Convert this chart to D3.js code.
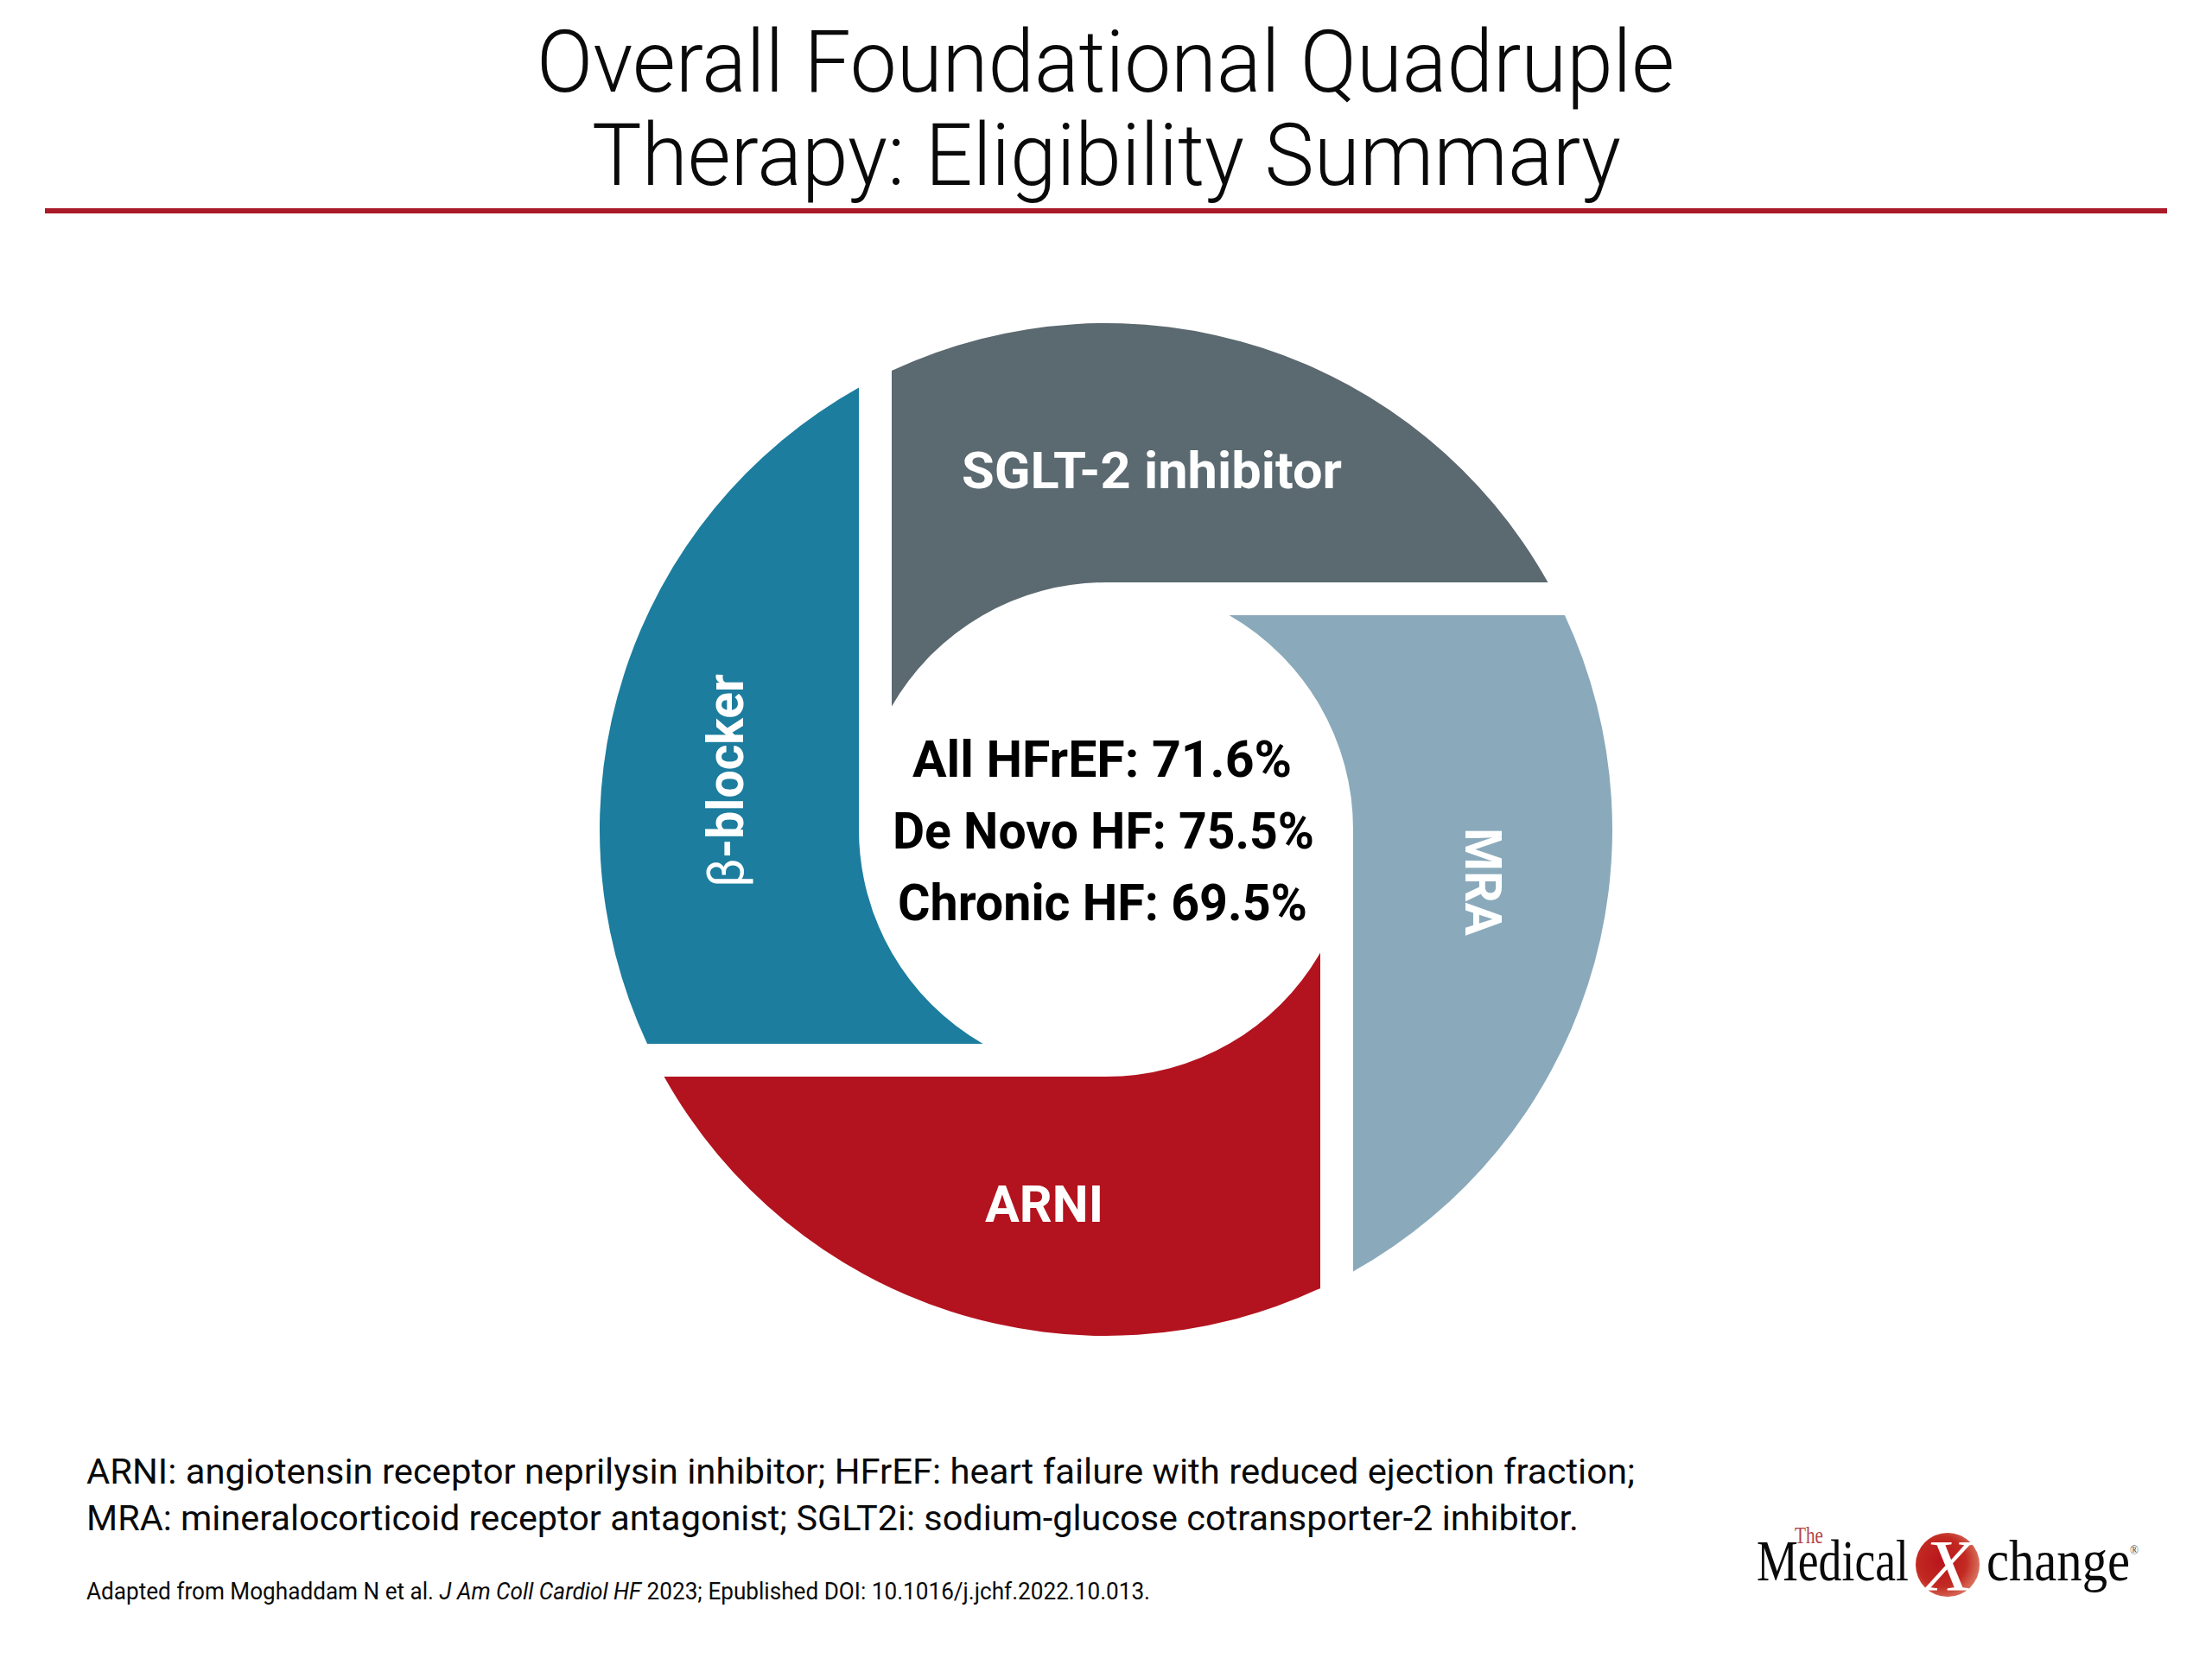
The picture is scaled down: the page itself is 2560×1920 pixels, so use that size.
<!DOCTYPE html>
<html>
<head>
<meta charset="utf-8">
<style>
  html, body { margin: 0; padding: 0; background: #fff; }
  svg { display: block; }
  text { font-family: Roboto, sans-serif; }
</style>
<script src="https://cdn.jsdelivr.net/npm/d3@7"></script>
</head>
<body>
<div id="container"></div>
<script>
//===================================================
// Data
//===================================================
var titleLines = ["Overall Foundational Quadruple", "Therapy: Eligibility Summary"];
var segmentNames = ["SGLT-2 inhibitor", "MRA", "ARNI", "β-blocker"];
var segmentShares = [25, 25, 25, 25];
var cohortNames = ["All HFrEF", "De Novo HF", "Chronic HF"];
var cohortEligible = [71.6, 75.5, 69.5];
var footnoteLines = [
  "ARNI: angiotensin receptor neprilysin inhibitor; HFrEF: heart failure with reduced ejection fraction;",
  "MRA: mineralocorticoid receptor antagonist; SGLT2i: sodium-glucose cotransporter-2 inhibitor."
];

//===================================================
// Layout
//===================================================
var W = 2560, H = 1920;
var CX = 1280, CY = 960;
var R_OUTER = 586, R_INNER = 286, EDGE = 248;
var RED = "#b3131f";

var color = d3.scaleOrdinal()
  .domain(segmentNames)
  .range(["#5b6970", "#8aaabb", RED, "#1c7d9e"]);

var cohortY = d3.scalePoint()
  .domain(cohortNames)
  .range([899, 1065]);

var pct = d3.format(".1f");

// [x, y, rotation, length] of each label, x/y is the start of the baseline
var labelSpots = {
  "SGLT-2 inhibitor": [1113, 565, 0, 440],
  "MRA": [1696, 958, 90, 125],
  "ARNI": [1140, 1414, 0, 137],
  "β-blocker": [860, 1027, -90, 247]
};

var svg = d3.select("#container").append("svg")
  .attr("width", W)
  .attr("height", H)
  .attr("viewBox", [0, 0, W, H]);

svg.append("rect").attr("width", W).attr("height", H).attr("fill", "#fff");

//===================================================
// Title
//===================================================
var titleSpots = [[621, 1317, 106], [685, 1191, 214]];

svg.selectAll("text.title")
  .data(titleLines)
  .join("text")
  .attr("class", "title")
  .attr("x", function(d, i) { return titleSpots[i][0]; })
  .attr("y", function(d, i) { return titleSpots[i][2]; })
  .attr("textLength", function(d, i) { return titleSpots[i][1]; })
  .attr("lengthAdjust", "spacingAndGlyphs")
  .attr("font-size", 100)
  .attr("font-weight", 300)
  .attr("fill", "#0a0a0a")
  .text(function(d) { return d; });

svg.append("line")
  .attr("x1", 52).attr("x2", 2508)
  .attr("y1", 244).attr("y2", 244)
  .attr("stroke", "#aa1a28")
  .attr("stroke-width", 6);

//===================================================
// Pinwheel: one shape, turned by the pie's start angle
//===================================================
var pie = d3.pie().sort(null);

function segmentPath() {
  var p = d3.path();
  var yOut = Math.sqrt(R_OUTER * R_OUTER - EDGE * EDGE);
  var yIn = Math.sqrt(R_INNER * R_INNER - EDGE * EDGE);
  var xTip = Math.sqrt(R_OUTER * R_OUTER - R_INNER * R_INNER);
  p.moveTo(-EDGE, -yOut);
  p.arc(0, 0, R_OUTER, Math.atan2(-yOut, -EDGE), Math.atan2(-R_INNER, xTip), false);
  p.lineTo(0, -R_INNER);
  p.arc(0, 0, R_INNER, -Math.PI / 2, Math.atan2(-yIn, -EDGE), true);
  p.closePath();
  return p.toString();
}

var segs = pie(segmentShares);

svg.append("g")
  .attr("transform", "translate(" + CX + "," + CY + ")")
  .selectAll("path")
  .data(segs)
  .join("path")
  .attr("d", segmentPath())
  .attr("transform", function(d) { return "rotate(" + (d.startAngle * 180 / Math.PI) + ")"; })
  .attr("fill", function(d, i) { return color(segmentNames[i]); });

svg.selectAll("text.seg")
  .data(segmentNames)
  .join("text")
  .attr("class", "seg")
  .attr("transform", function(d) {
    var s = labelSpots[d];
    return "translate(" + s[0] + "," + s[1] + ") rotate(" + s[2] + ")";
  })
  .attr("textLength", function(d) { return labelSpots[d][3]; })
  .attr("lengthAdjust", "spacingAndGlyphs")
  .attr("font-size", 60)
  .attr("font-weight", 700)
  .attr("fill", "#fff")
  .each(function(d) {
    // the beta is a thin glyph in the original
    var t = d3.select(this);
    if (d.charAt(0) === "β") {
      t.append("tspan").attr("font-weight", 400).text("β");
      t.append("tspan").text(d.slice(1));
    } else {
      t.text(d);
    }
  });

//===================================================
// Centre text
//===================================================
var cohortSpots = [[1056, 439], [1033, 488], [1039, 474]];

svg.selectAll("text.cohort")
  .data(cohortNames)
  .join("text")
  .attr("class", "cohort")
  .attr("x", function(d, i) { return cohortSpots[i][0]; })
  .attr("y", function(d) { return cohortY(d); })
  .attr("textLength", function(d, i) { return cohortSpots[i][1]; })
  .attr("lengthAdjust", "spacingAndGlyphs")
  .attr("font-size", 59)
  .attr("font-weight", 700)
  .attr("fill", "#000")
  .text(function(d, i) { return d + ": " + pct(cohortEligible[i]) + "%"; });

//===================================================
// Footnotes
//===================================================
var footSpots = [[1717, 1792], [1771, 1727]];

svg.selectAll("text.foot")
  .data(footnoteLines)
  .join("text")
  .attr("class", "foot")
  .attr("x", 100)
  .attr("y", function(d, i) { return footSpots[i][0]; })
  .attr("textLength", function(d, i) { return footSpots[i][1]; })
  .attr("lengthAdjust", "spacingAndGlyphs")
  .attr("font-size", 41)
  .attr("fill", "#0a0a0a")
  .text(function(d) { return d; });

var source = svg.append("text")
  .attr("x", 100)
  .attr("y", 1851)
  .attr("textLength", 1231)
  .attr("lengthAdjust", "spacingAndGlyphs")
  .attr("font-size", 27)
  .attr("fill", "#0a0a0a");
source.append("tspan").text("Adapted from Moghaddam N et al. ");
source.append("tspan").attr("font-style", "italic").text("J Am Coll Cardiol HF");
source.append("tspan").text(" 2023; Epublished DOI: 10.1016/j.jchf.2022.10.013.");

//===================================================
// Logo
//===================================================
var grad = svg.append("defs").append("radialGradient")
  .attr("id", "ball")
  .attr("cx", "40%").attr("cy", "45%").attr("r", "60%");
grad.append("stop").attr("offset", "0%").attr("stop-color", "#b8141c");
grad.append("stop").attr("offset", "65%").attr("stop-color", "#c22a22");
grad.append("stop").attr("offset", "100%").attr("stop-color", "#d8705c");

var logo = svg.append("g");

function logoText(str, x, y, size, len, fill, italic) {
  logo.append("text")
    .attr("x", x).attr("y", y)
    .attr("textLength", len)
    .attr("lengthAdjust", "spacingAndGlyphs")
    .attr("font-size", size)
    .attr("font-style", italic ? "italic" : "normal")
    .style("font-family", "'Liberation Serif', serif")
    .attr("fill", fill)
    .text(str);
}

logoText("Medical", 2033, 1829, 68, 176, "#0a0a0a");
logoText("The", 2077, 1786, 27, 33, "#b5434b");
logoText("change", 2299, 1829, 68, 166, "#0a0a0a");
logoText("®", 2465, 1799, 14, 10, "#444");

logo.append("circle")
  .attr("cx", 2254).attr("cy", 1811).attr("r", 37)
  .attr("fill", "url(#ball)");
logoText("X", 2224, 1841, 84, 60, "#fff", true);
</script>
</body>
</html>
